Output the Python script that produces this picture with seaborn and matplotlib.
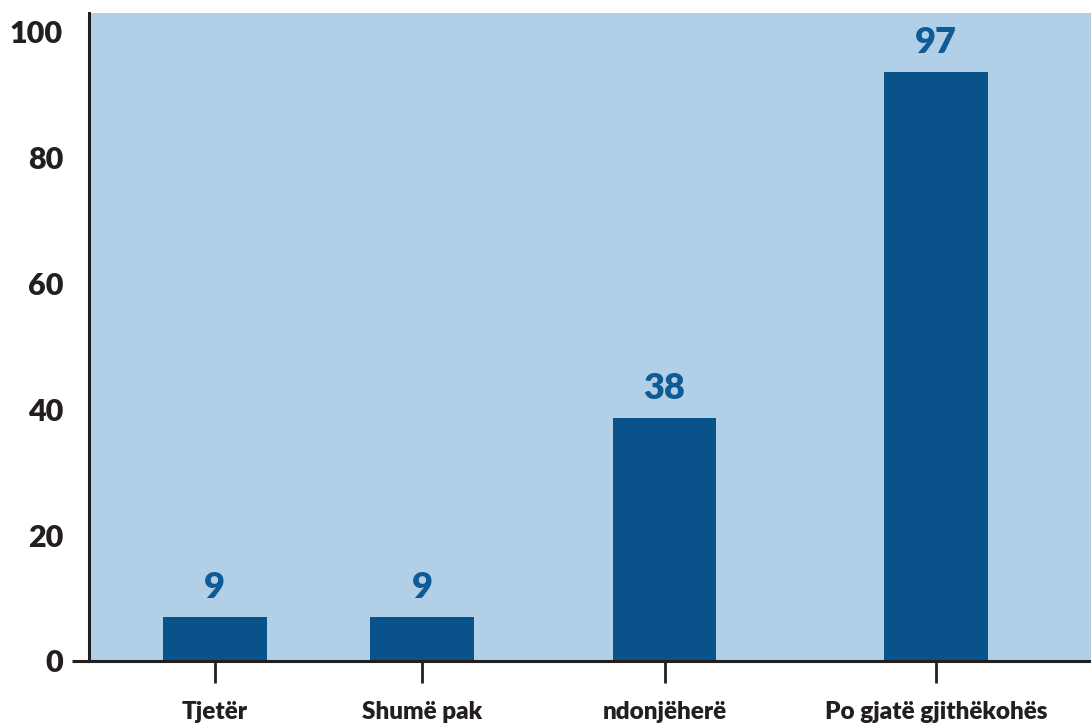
import numpy as np
import pandas as pd
import matplotlib
matplotlib.use("Agg")
import matplotlib.pyplot as plt
import seaborn as sns

# data
categories = ["Tjetër", "Shumë pak", "ndonjëherë", "Po gjatë gjithëkohës"]
bar_heights = [7.0, 7.0, 38.6, 93.6]   # bar tops as drawn in the picture
bar_labels = [9, 9, 38, 97]            # numbers printed above the bars
positions = [0, 1, 2.17, 3.48]         # uneven spacing of the categories
y_ticks = [0, 20, 40, 60, 80, 100]

df = pd.DataFrame({"pos": positions, "height": bar_heights, "cat": categories})

sns.set_style("white")
plt.rcParams["font.family"] = ["Lato", "DejaVu Sans"]
plt.rcParams["font.weight"] = "bold"

dark = "#231F20"
bg = "#B1D0E8"
bar_col = "#0A528A"

fig = plt.figure(figsize=(10.91, 7.23), dpi=100)
ax = fig.add_axes([0.082, 0.0858, 0.918, 0.8962])
ax.set_facecolor(bg)

sns.barplot(data=df, x="pos", y="height", native_scale=True, width=0.5,
            color=bar_col, saturation=1, linewidth=0, ax=ax)

ax.bar_label(ax.containers[0], labels=[str(v) for v in bar_labels],
             padding=9, color="#0F5B96", fontsize=26, fontweight="heavy")

ax.set_xlim(-0.604, 4.227)
ax.set_ylim(0, 102.9)
ax.set_xticks(positions)
ax.set_xticklabels(categories, fontsize=17.5, fontweight="heavy", color=dark)
ax.set_yticks(y_ticks)
ax.set_yticklabels([str(t) for t in y_ticks], fontsize=22, fontweight="heavy", color=dark)
# little stub of the x axis poking out left of the y axis
ax.yaxis.remove_overlapping_locs = False
ax.set_yticks([0], minor=True)
ax.tick_params(axis="y", which="major", left=True, length=0, pad=19)
ax.tick_params(axis="y", which="minor", left=True, length=12, width=2.2, color=dark)
ax.tick_params(axis="x", bottom=True, length=16, width=2, color=dark, pad=13)
ax.set_xlabel("")
ax.set_ylabel("")

for side in ["top", "right"]:
    ax.spines[side].set_visible(False)
for side in ["left", "bottom"]:
    ax.spines[side].set_color(dark)
    ax.spines[side].set_linewidth(2.2)

fig.savefig("out.png", dpi=100)
